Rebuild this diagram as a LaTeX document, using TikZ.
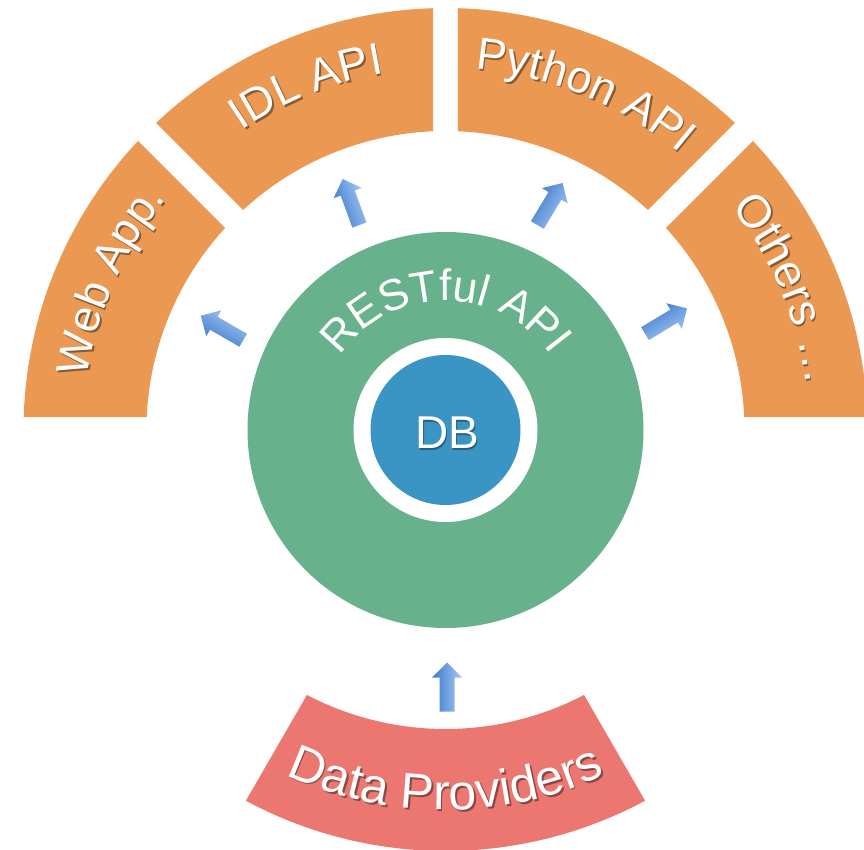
\documentclass[tikz,border=0pt]{standalone}
\usepackage{fontspec}
\setmainfont{Liberation Sans}
\usetikzlibrary{decorations.text}
\definecolor{segorange}{HTML}{EA9852}
\definecolor{restgreen}{HTML}{67B18D}
\definecolor{dbblue}{HTML}{3A94C4}
\definecolor{provred}{HTML}{EC7670}
\definecolor{arrlight}{HTML}{A6CAF5}
\definecolor{arrdark}{HTML}{3B78CA}

% ring segment with parallel gaps: #1 colour, #2 a1, #3 a2, #4 r in, #5 r out, #6 half gap
\newcommand{\ringseg}[6]{%
  \pgfmathsetmacro{\segoa}{#2+asin(#6/#5)}%
  \pgfmathsetmacro{\segob}{#3-asin(#6/#5)}%
  \pgfmathsetmacro{\segia}{#2+asin(#6/#4)}%
  \pgfmathsetmacro{\segib}{#3-asin(#6/#4)}%
  \fill[#1] (\segoa:#5) arc[start angle=\segoa, end angle=\segob, radius=#5]
     -- (\segib:#4) arc[start angle=\segib, end angle=\segia, radius=#4] -- cycle;
}
% clockwise text (tops outward): #1 centre angle, #2 radius, #3 size, #4 shadow colour, #5 text
\newcommand{\cwtext}[5]{%
  \pgfmathsetmacro{\tsa}{#1+60}\pgfmathsetmacro{\tea}{#1-60}%
  \path[shift={(1.8,-1.8)}, decorate, decoration={text along path, text align=center,
     text={|\fontsize{#3}{#3}\selectfont\color{#4}|#5}}]
     (\tsa:#2) arc[start angle=\tsa, end angle=\tea, radius=#2];
  \path[decorate, decoration={text along path, text align=center,
     text={|\fontsize{#3}{#3}\selectfont\color{white}|#5}}]
     (\tsa:#2) arc[start angle=\tsa, end angle=\tea, radius=#2];
}
% counter-clockwise text (tops inward)
\newcommand{\ccwtext}[5]{%
  \pgfmathsetmacro{\tsa}{#1-60}\pgfmathsetmacro{\tea}{#1+60}%
  \path[shift={(1.8,-1.8)}, decorate, decoration={text along path, text align=center,
     text={|\fontsize{#3}{#3}\selectfont\color{#4}|#5}}]
     (\tsa:#2) arc[start angle=\tsa, end angle=\tea, radius=#2];
  \path[decorate, decoration={text along path, text align=center,
     text={|\fontsize{#3}{#3}\selectfont\color{white}|#5}}]
     (\tsa:#2) arc[start angle=\tsa, end angle=\tea, radius=#2];
}
% block arrow: #1 name, #2 x, #3 y, #4 direction
\newcommand{\blockarrow}[4]{%
  \coordinate (#1) at (#2,#3);
  \begin{scope}[shift={(#1)}, rotate=#4]
    \shade[left color=arrdark, right color=arrlight, shading angle=#4]
      (-24.5,-7.5) -- (9.5,-7.5) -- (9.5,-15) -- (24.5,0) -- (9.5,15) -- (9.5,7.5) -- (-24.5,7.5) -- cycle;
  \end{scope}
}

\begin{document}
\begin{tikzpicture}[x=1pt, y=1pt,
  disc/.style={circle, inner sep=0pt, outer sep=0pt}]
\useasboundingbox (-445.5,-420) rectangle (418.5,430);
\clip (-445.5,-420) rectangle (418.5,430);
\coordinate (C) at (0,0);

% outer ring segments
\ringseg{segorange}{135}{180}{299}{422}{13}
\ringseg{segorange}{90}{135}{299}{422}{12.5}
\ringseg{segorange}{45}{90}{299}{422}{12.5}
\ringseg{segorange}{0}{45}{299}{422}{13}
\ringseg{provred}{240}{300}{299}{421}{12.5}

% centre
\node[disc, fill=restgreen, minimum size=396pt] (rest) at (C) {};
\node[disc, fill=white, minimum size=184pt] (dbring) at (C) {};
\node[disc, fill=dbblue, minimum size=150pt] (db) at (C) {};
\node[text=dbblue!65!black] (dbshadow) at (2.7,-4.2) {\fontsize{46}{46}\selectfont DB};
\node[text=white] (dblabel) at (1.5,-3) {\fontsize{46}{46}\selectfont DB};

% labels
\cwtext{156}{362}{45}{segorange!60!black}{Web App.}
\cwtext{112}{362}{45}{segorange!60!black}{IDL API}
\cwtext{67.5}{362}{45}{segorange!60!black}{Python API}
\cwtext{22.5}{363}{46}{segorange!60!black}{Others …}
\ccwtext{270}{380}{50}{provred!60!black}{Data Providers}
\pgfmathsetmacro{\tsa}{150}\pgfmathsetmacro{\tea}{30}
\path[decorate, decoration={text along path, text align=center,
   text={|\fontsize{44}{44}\selectfont\color{white}|RESTful API}}]
   (\tsa:129) arc[start angle=\tsa, end angle=\tea, radius=129];

% arrows
\blockarrow{awebapp}{-223.5}{102}{150}
\blockarrow{aidl}{-94.5}{228}{110}
\blockarrow{apython}{104.5}{226}{59}
\blockarrow{aothers}{220.5}{109}{31}
\blockarrow{aprov}{1.5}{-257}{90}
\end{tikzpicture}
\end{document}
